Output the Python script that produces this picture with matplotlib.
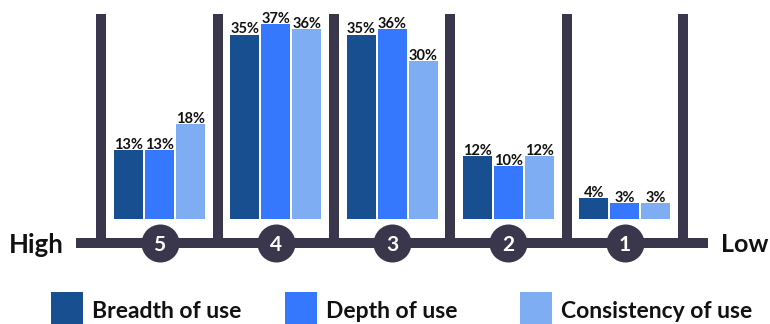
import matplotlib
matplotlib.use('Agg')
import matplotlib.pyplot as plt
from matplotlib.patches import Rectangle
import numpy as np

# ---- data ----
levels = ['5', '4', '3', '2', '1']
series = ['Breadth of use', 'Depth of use', 'Consistency of use']
breadth = [13, 35, 35, 12, 4]
depth = [13, 37, 36, 10, 3]
consistency = [18, 36, 30, 12, 3]
end_labels = ['High', 'Low']

colors = ['#174F91', '#3578FD', '#7EADF4']
dark = '#3A374D'
FONT = 'Lato'

W, H = 770, 324
fig = plt.figure(figsize=(W / 100, H / 100), dpi=100)
ax = fig.add_axes([0, 0, 1, 1])
ax.axis('off')

# layout scale (pixel geometry of the reference)
x0_px, step_px = 159.5, 116.3
zero_from_top, px_per_pct = 219.0, 5.27
ax.set_xlim(-x0_px / step_px, (W - x0_px) / step_px)
ax.set_ylim(-(H - zero_from_top) / px_per_pct, zero_from_top / px_per_pct)

x = np.arange(len(levels))
bw = 29 / step_px
off = 31 / step_px
axis_y = -(243 - zero_from_top) / px_per_pct
post_top = (zero_from_top - 14) / px_per_pct
lw = 10 * 0.72
ext = 25 / step_px

# posts
for p in np.arange(len(levels) + 1) - 0.5:
    ax.plot([p, p], [axis_y, post_top], color=dark, lw=lw, solid_capstyle='butt', zorder=1)
# base line
ax.plot([-0.5 - ext, len(levels) - 0.5 + ext], [axis_y, axis_y], color=dark, lw=lw,
        solid_capstyle='butt', zorder=1)

for i, (vals, c) in enumerate(zip([breadth, depth, consistency], colors)):
    xs = x + (i - 1) * off
    ax.bar(xs, vals, width=bw, color=c, zorder=2, label=series[i])
    for xx, v in zip(xs, vals):
        ax.text(xx, v + 1.2 / px_per_pct, f'{v}%', ha='center', va='baseline',
                fontsize=10.5, fontweight='bold', family=FONT, color='#111111', zorder=3)

# level circles
ax.scatter(x, [axis_y] * len(x), s=(2 * 19 * 0.72) ** 2, color=dark, zorder=4, linewidths=0)
for xx, lab in zip(x, levels):
    ax.text(xx, axis_y, lab, ha='center', va='center_baseline', fontsize=15,
            fontweight='bold', family=FONT, color='white', zorder=5)

# High / Low
ax.text(-x0_px / step_px + 9 / step_px, axis_y, end_labels[0], ha='left', va='center_baseline',
        fontsize=18.5, fontweight='bold', family=FONT, color='#111111')
ax.text(len(levels) - 0.5 + ext + 13 / step_px, axis_y, end_labels[1], ha='left',
        va='center_baseline', fontsize=18, fontweight='bold', family=FONT, color='#111111')

# legend (fixed-width columns like the reference)
leg_left = [51, 285, 520]
for lx, c, name in zip(leg_left, colors, series):
    fig.add_artist(Rectangle((lx / W, 0), 32 / W, 32 / H, transform=fig.transFigure,
                             facecolor=c, edgecolor='none'))
    fig.text((lx + 41) / W, 1 - 309 / H, name, ha='left', va='center_baseline',
             fontsize=16.5, fontweight='bold', family=FONT, color='#111111')

fig.savefig('out.png', dpi=100)
